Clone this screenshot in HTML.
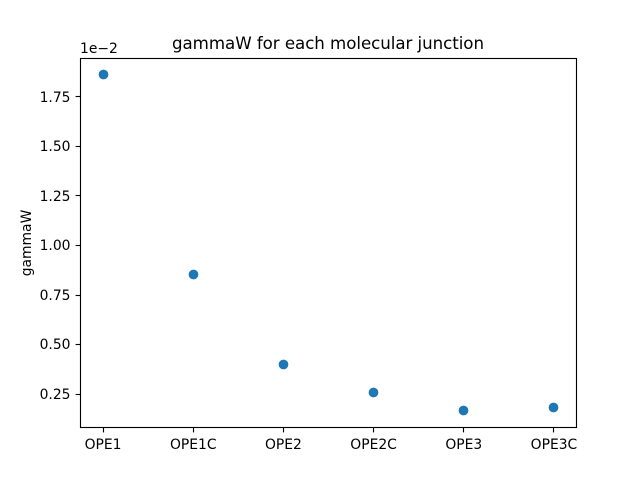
<!DOCTYPE html>
<html>
<head>
<meta charset="utf-8">
<title>gammaW for each molecular junction</title>
<style>
html,body{margin:0;padding:0;background:#fff;}
svg{display:block;}
text{font-family:"DejaVu Sans",sans-serif;fill:#000;}
</style>
</head>
<body>
<svg id="chart" xmlns="http://www.w3.org/2000/svg" width="640" height="480" viewBox="0 0 640 480">
<rect x="0" y="0" width="640" height="480" fill="#fff"/>
<text x="328" y="49" font-size="16.67" text-anchor="middle" textLength="312">gammaW for each molecular junction</text>
<text transform="translate(31,243) rotate(-90)" font-size="13.89" text-anchor="middle">gammaW</text>
<text x="80" y="53" font-size="13.89">1e−2</text>
<g id="ticks"></g>
<g id="points"></g>
<rect x="80.5" y="58.5" width="496" height="369" fill="none" stroke="#000" stroke-width="1.11"/>
</svg>
<script>
const categories = ["OPE1", "OPE1C", "OPE2", "OPE2C", "OPE3", "OPE3C"];
const gammaW = [1.861, 0.854, 0.397, 0.26, 0.165, 0.183];
const yTickValues = [0.25, 0.5, 0.75, 1.0, 1.25, 1.5, 1.75];
const yTickLabels = ["0.25", "0.50", "0.75", "1.00", "1.25", "1.50", "1.75"];

const NS = "http://www.w3.org/2000/svg";
const left = 80, right = 576, top_ = 57.6, bottom = 427.2;
const margin = 0.05;
const dataMin = Math.min(...gammaW), dataMax = Math.max(...gammaW);
const span = dataMax - dataMin;
const yLow = dataMin - span * margin, yHigh = dataMax + span * margin;
const xLow = -margin * (categories.length - 1), xHigh = (categories.length - 1) * (1 + margin);

function xScale(i) { return left + (i - xLow) / (xHigh - xLow) * (right - left); }
function yScale(v) { return bottom - (v - yLow) / (yHigh - yLow) * (bottom - top_); }
function snap(p) { return Math.round(p) + 0.5; }

const tickGroup = document.getElementById("ticks");
const pointGroup = document.getElementById("points");

function makeTick(x1, y1, x2, y2) {
  const l = document.createElementNS(NS, "line");
  l.setAttribute("x1", x1);
  l.setAttribute("y1", y1);
  l.setAttribute("x2", x2);
  l.setAttribute("y2", y2);
  l.setAttribute("stroke", "#000");
  l.setAttribute("stroke-width", "1.11");
  return l;
}

categories.forEach(function (name, i) {
  const x = snap(xScale(i));
  const tick = makeTick(x, 427.5, x, 432.4);
  
  
  tickGroup.appendChild(tick);
  const label = document.createElementNS(NS, "text");
  label.setAttribute("x", xScale(i) + 0.5);
  label.setAttribute("y", 449);
  label.setAttribute("font-size", "13.89");
  label.setAttribute("text-anchor", "middle");
  label.textContent = name;
  
  
  tickGroup.appendChild(label);
});

yTickValues.forEach(function (v, i) {
  const y = snap(yScale(v));
  const tick = makeTick(75.6, y, 80.5, y);
  
  
  tickGroup.appendChild(tick);
  const label = document.createElementNS(NS, "text");
  label.setAttribute("x", 70.5);
  label.setAttribute("y", Math.round(yScale(v) + 5.2));
  label.setAttribute("font-size", "13.89");
  label.setAttribute("text-anchor", "end");
  label.textContent = yTickLabels[i];
  
  
  tickGroup.appendChild(label);
});

gammaW.forEach(function (v, i) {
  const c = document.createElementNS(NS, "circle");
  c.setAttribute("cx", snap(xScale(i)));
  c.setAttribute("cy", snap(yScale(v)));
  c.setAttribute("r", "4.17");
  c.setAttribute("fill", "#1f77b4");
  c.setAttribute("stroke", "#1f77b4");
  c.setAttribute("stroke-width", "1.39");
  
  
  pointGroup.appendChild(c);
});
</script>
</body>
</html>
